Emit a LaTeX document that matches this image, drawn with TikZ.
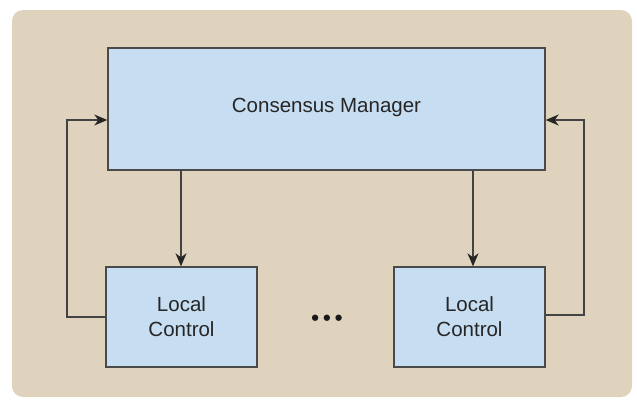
\documentclass[tikz,border=0pt]{standalone}
\usepackage{fontspec}
\setmainfont{Liberation Sans}
\usetikzlibrary{arrows.meta}
\definecolor{bgbeige}{HTML}{E0D3BE}
\definecolor{boxblue}{HTML}{C6DDF2}
\definecolor{edgegray}{HTML}{4A4A4A}
\tikzset{txt/.style={font=\fontsize{20.5}{25}\selectfont,text=black!85}}
\begin{document}
\begin{tikzpicture}[x=1pt,y=-1pt,
  blk/.style={draw=edgegray,line width=1.4pt,fill=boxblue,inner sep=0pt,align=center,txt},
  conn/.style={draw=edgegray!90!black,line width=1.3pt,-{Stealth[length=13pt,width=11pt,inset=4pt,color=black!85]}}]
\useasboundingbox (0,0) rectangle (637,399);
\fill[bgbeige,rounded corners=11pt] (12,10) rectangle (632,397);
\node[blk,minimum width=437pt,minimum height=122pt] (cm) at (326.5,109) {};
\node[txt] (cmt) at (326.5,107) {Consensus Manager};
\node[blk,minimum width=151pt,minimum height=100pt] (lc1) at (181.5,317) {Local\\Control};
\node[blk,minimum width=151pt,minimum height=100pt] (lc2) at (469.5,317) {Local\\Control};
\node[font=\fontsize{22}{24}\selectfont\bfseries,text=black!90] (dots) at (327,320) {\textbullet\hspace{4pt}\textbullet\hspace{4pt}\textbullet};
\coordinate (l1) at (67,317);
\coordinate (l2) at (67,120);
\coordinate (r1) at (584,315);
\coordinate (r2) at (584,120);
\draw[conn] (cm.south -| 181,0) -- (lc1.north -| 181,0);
\draw[conn] (cm.south -| 473,0) -- (lc2.north -| 473,0);
\draw[conn] (lc1.west |- l1) -- (l1) -- (l2) -- (cm.west |- l2);
\draw[conn] (lc2.east |- r1) -- (r1) -- (r2) -- (cm.east |- r2);
\end{tikzpicture}
\end{document}
